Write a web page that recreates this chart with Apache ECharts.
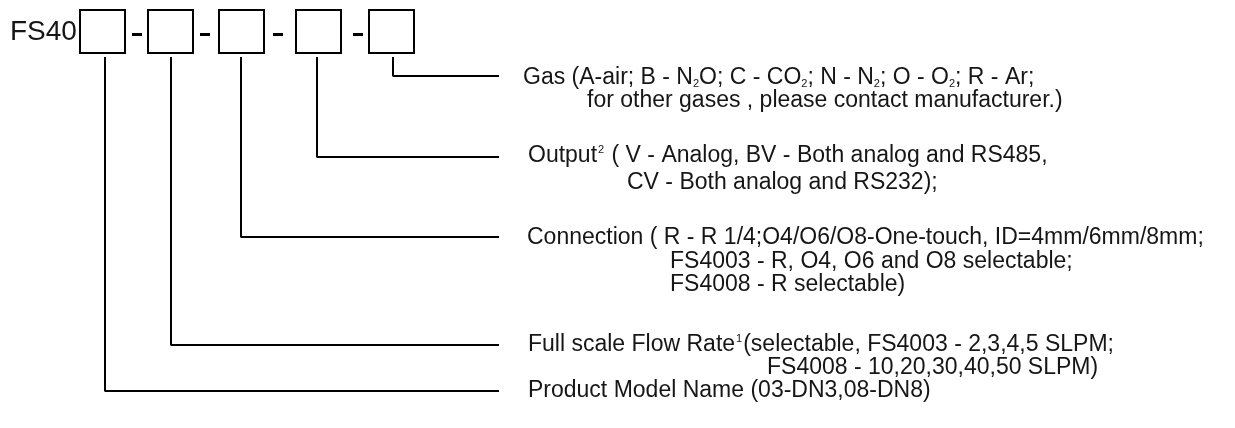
<!DOCTYPE html>
<html>
<head>
<meta charset="utf-8">
<script src="https://cdn.jsdelivr.net/npm/echarts@6/dist/echarts.min.js"></script>
<style>
  html, body { margin: 0; padding: 0; background: #fff; }
  #box { width: 1235px; height: 428px; }
</style>
</head>
<body>
<div id="box"></div>
<script>
// model code: FS40 [1]-[2]-[3]-[4]-[5]
const prefix = 'FS40';
const fields = ['Product Model Name', 'Full scale Flow Rate', 'Connection', 'Output', 'Gas'];
// description text of each field, one string per text line
const descProduct = ['Product Model Name (03-DN3,08-DN8)'];
const descFlow = ['Full scale Flow Rate{sup|1}(selectable, FS4003 - 2,3,4,5 SLPM;', 'FS4008 - 10,20,30,40,50 SLPM)'];
const descConn = ['Connection ( R - R 1/4;O4/O6/O8-One-touch, ID=4mm/6mm/8mm;', 'FS4003 - R, O4, O6 and O8 selectable;', 'FS4008 - R selectable)'];
const descOutput = ['Output{sup|2} ( V - Analog, BV - Both analog and RS485,', 'CV - Both analog and RS232);'];
const descGas = ['Gas (A-air; B - N{sub|2}O; C - CO{sub|2}; N - N{sub|2}; O - O{sub|2}; R - Ar;', 'for other gases , please contact manufacturer.)'];
const descriptions = [descProduct, descFlow, descConn, descOutput, descGas];

// layout, in the pixel space of the hidden axes
const W = 1235, H = 428;
const boxLeft = [80, 148, 219, 296, 369];
const boxW = 45, boxTop = 10, boxH = 43;
const dashX = [132, 200, 273, 353];
const stemX = [105, 171, 241, 317, 393];
const stemTop = 57;
const elbowY = [391, 345, 237, 157, 76];
const lineEnd = 499;
const textX = [[528], [528, 767], [527, 670, 670], [528, 627], [523, 587]];
const textY = [[391], [345, 368], [238, 262, 285], [156, 183], [78, 101]];

const FONT = '"Liberation Sans", Arial, sans-serif';
const INK = '#161616';

var myChart = echarts.init(document.getElementById('box'));

const textData = [];
descriptions.forEach(function (lines, i) {
  lines.forEach(function (t, j) {
    textData.push([textX[i][j], textY[i][j], t]);
  });
});

const connectorSeries = fields.map(function (name, i) {
  return {
    name: name,
    type: 'line',
    data: [[stemX[i], stemTop], [stemX[i], elbowY[i]], [lineEnd, elbowY[i]]],
    showSymbol: false,
    symbol: 'none',
    silent: true,
    lineStyle: { color: '#000', width: 2 },
    animation: false
  };
});

const option = {
  animation: false,
  grid: { left: 0, right: 0, top: 0, bottom: 0 },
  xAxis: { type: 'value', min: 0, max: W, show: false },
  yAxis: { type: 'value', min: 0, max: H, inverse: true, show: false },
  series: [
    {
      // code boxes
      type: 'custom',
      silent: true,
      data: boxLeft.map(function (x) { return [x, boxTop]; }),
      renderItem: function (params, api) {
        const p0 = api.coord([api.value(0), api.value(1)]);
        const p1 = api.coord([api.value(0) + boxW, api.value(1) + boxH]);
        return {
          type: 'rect',
          shape: { x: p0[0], y: p0[1], width: p1[0] - p0[0], height: p1[1] - p0[1] },
          style: { fill: 'none', stroke: '#000', lineWidth: 2 }
        };
      }
    },
    {
      // dashes between the boxes
      type: 'custom',
      silent: true,
      data: dashX.map(function (x) { return [x, 34.5]; }),
      renderItem: function (params, api) {
        const p0 = api.coord([api.value(0), api.value(1)]);
        const p1 = api.coord([api.value(0) + 10, api.value(1)]);
        return {
          type: 'line',
          shape: { x1: p0[0], y1: p0[1], x2: p1[0], y2: p1[1] },
          style: { stroke: '#000', lineWidth: 3 }
        };
      }
    },
    {
      // prefix
      type: 'custom',
      silent: true,
      data: [[10, 32]],
      renderItem: function (params, api) {
        const p = api.coord([api.value(0), api.value(1)]);
        return {
          type: 'text',
          x: p[0], y: p[1],
          style: {
            text: prefix,
            fontFamily: FONT, fontSize: 28, fill: INK,
            align: 'left', verticalAlign: 'middle'
          }
        };
      }
    }
  ].concat(connectorSeries).concat([
    {
      // field descriptions
      type: 'custom',
      silent: true,
      data: textData,
      dimensions: ['x', 'y', { name: 't', type: 'ordinal' }],
      renderItem: function (params, api) {
        const d = textData[params.dataIndex];
        const p = api.coord([d[0], d[1]]);
        return {
          type: 'text',
          x: p[0], y: p[1],
          style: {
            text: d[2],
            fontFamily: FONT, fontSize: 23, fill: INK,
            align: 'left', verticalAlign: 'middle',
            rich: {
              sub: { fontFamily: FONT, fontSize: 11, fill: INK, padding: [12, 0, 0, 0] },
              sup: { fontFamily: FONT, fontSize: 11, fill: INK, padding: [0, 1, 13, 1] }
            }
          }
        };
      }
    }
  ])
};

myChart.setOption(option);
</script>
</body>
</html>
